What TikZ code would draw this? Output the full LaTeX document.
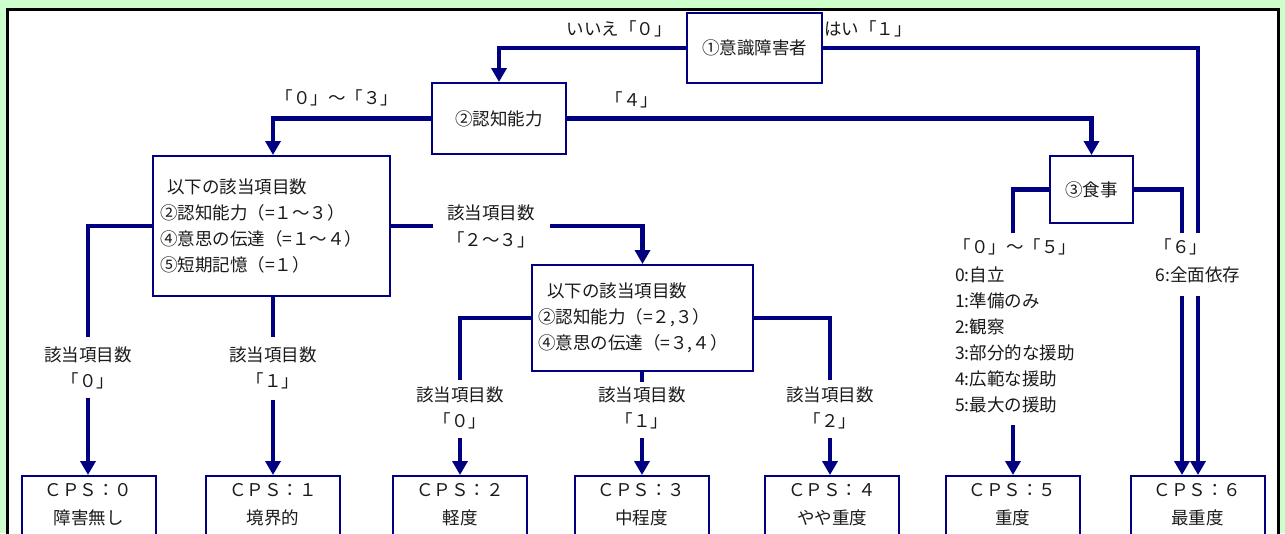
\documentclass[tikz,border=0pt]{standalone}
\usepackage{fontspec}
\setmainfont{Noto Sans CJK JP}
\usetikzlibrary{arrows.meta,calc}
\definecolor{bg}{HTML}{CCFFCC}
\definecolor{nv}{HTML}{000080}
\definecolor{tx}{HTML}{1A1A1A}
\begin{document}
\begin{tikzpicture}[x=1pt,y=-1pt,
  box/.style={draw=nv,line width=2pt,inner sep=0pt},
  conn/.style={draw=nv,line width=4.5pt},
  arr/.style={-{Triangle[width=15pt,length=14pt]}},
  lbl/.style={text=tx,inner sep=0pt,align=center,font=\fontsize{17.5}{26.5}\selectfont},
  lst/.style={text=tx,inner sep=0pt,align=left,font=\fontsize{17.5}{26}\selectfont}]
\useasboundingbox (0,0) rectangle (1285,533);
\clip (0,0) rectangle (1285,533);
\fill[bg] (0,0) rectangle (1285,533);
\draw[black,line width=3pt,fill=white] (7,9) rectangle (1278,560);

% boxes
\node[box,minimum width=135pt,minimum height=70pt] (b1) at (754.5,48) {};
\node[lbl] (t1) at (754.5,48) {①意識障害者};
\node[box,minimum width=134pt,minimum height=71pt] (b2) at (499,118.5) {};
\node[lbl] (t2) at (499,118.5) {②認知能力};
\node[box,minimum width=237pt,minimum height=140pt] (b3) at (271.5,226) {};
\node[lst,anchor=west] (t3) at (160,226) {\hspace*{7pt}以下の該当項目数\\②認知能力（=１～３）\\④意思の伝達（=１～４）\\⑤短期記憶（=１）};
\node[box,minimum width=221pt,minimum height=106pt] (b4) at (642.5,318) {};
\node[lst,anchor=west] (t4) at (538,317.5) {\hspace*{9pt}以下の該当項目数\\②認知能力（=２,３）\\④意思の伝達（=３,４）};
\node[box,minimum width=83pt,minimum height=67pt] (m) at (1091.5,189.5) {};
\node[lbl] (tm) at (1091.5,189.5) {③食事};

% CPS boxes
\foreach \n/\x/\a/\b in {c0/88.5/０/障害無し, c1/273/１/境界的, c2/460/２/軽度, c3/641.5/３/中程度, c4/832/４/やや重度, c5/1012.5/５/重度, c6/1197.5/６/最重度}{
  \node[box,minimum width=134pt,minimum height=80pt,anchor=north] (\n) at (\x,475) {};
  \node[lbl] (\n a) at (\x,490) {ＣＰＳ：\a};
  \node[lbl] (\n b) at (\x,518) {\b};
}

% labels
\node[lbl] (l1) at (619,29) {いいえ「０」};
\node[lbl] (l2) at (868,29) {はい「１」};
\node[lbl] (l3) at (337,98) {「０」～「３」};
\node[lbl] (l4) at (632,100) {「４」};
\node[lbl] (l5) at (491,226.5) {該当項目数\\「２～３」};
\node[lbl] (l6) at (88,368) {該当項目数\\「０」};
\node[lbl] (l7) at (273,368) {該当項目数\\「１」};
\node[lbl] (l8) at (460,408) {該当項目数\\「０」};
\node[lbl] (l9) at (642,408) {該当項目数\\「１」};
\node[lbl] (l10) at (830,408) {該当項目数\\「２」};
\node[lbl] (l11) at (1015,247) {「０」～「５」};
\node[lst,anchor=west] (l12) at (955,340) {0:自立\\1:準備のみ\\2:観察\\3:部分的な援助\\4:広範な援助\\5:最大の援助};
\node[lbl] (l13) at (1181,247) {「６」};
\node[lbl] (l14) at (1198,275) {6:全面依存};

% coordinates for gaps
\coordinate (g0a) at (88,337);   \coordinate (g0b) at (88,398);
\coordinate (g1a) at (273,337);  \coordinate (g1b) at (273,400);
\coordinate (g2a) at (433,226);  \coordinate (g2b) at (550,226);
\coordinate (g3a) at (460,380);  \coordinate (g3b) at (460,438);
\coordinate (g4a) at (642,382);  \coordinate (g4b) at (642,438);
\coordinate (g5a) at (830,380);  \coordinate (g5b) at (830,438);
\coordinate (g6a) at (1013,233); \coordinate (g6b) at (1013,425);
\coordinate (g7a) at (1182,233); \coordinate (g7b) at (1182,296);
\coordinate (g8a) at (1198,233); \coordinate (g8b) at (1198,296);

% connectors
\draw[conn,arr] (b1.west) -| (b2.north);
\draw[conn] (b1.east) -| (g8a);
\draw[conn,arr] (g8b) -- (g8b |- c6.north);
\draw[conn,arr] (b2.west) -| (c1.north |- b3.north);
\draw[conn,arr] (b2.east) -| (m.north);
\draw[conn] (b3.west |- g2a) -| (g0a);
\draw[conn,arr] (g0b) -- (g0b |- c0.north);
\draw[conn] (g1a |- b3.south) -- (g1a);
\draw[conn,arr] (g1b) -- (g1b |- c1.north);
\draw[conn] (b3.east |- g2a) -- (g2a);
\draw[conn,arr] (g2b) -| (b4.north);
\draw[conn] (b4.west) -| (g3a);
\draw[conn,arr] (g3b) -- (g3b |- c2.north);
\draw[conn] (g4a |- b4.south) -- (g4a);
\draw[conn,arr] (g4b) -- (g4b |- c3.north);
\draw[conn] (b4.east) -| (g5a);
\draw[conn,arr] (g5b) -- (g5b |- c4.north);
\draw[conn] (m.west) -| (g6a);
\draw[conn,arr] (g6b) -- (g6b |- c5.north);
\draw[conn] (m.east) -| (g7a);
\draw[conn,arr] (g7b) -- (g7b |- c6.north);
\end{tikzpicture}
\end{document}
